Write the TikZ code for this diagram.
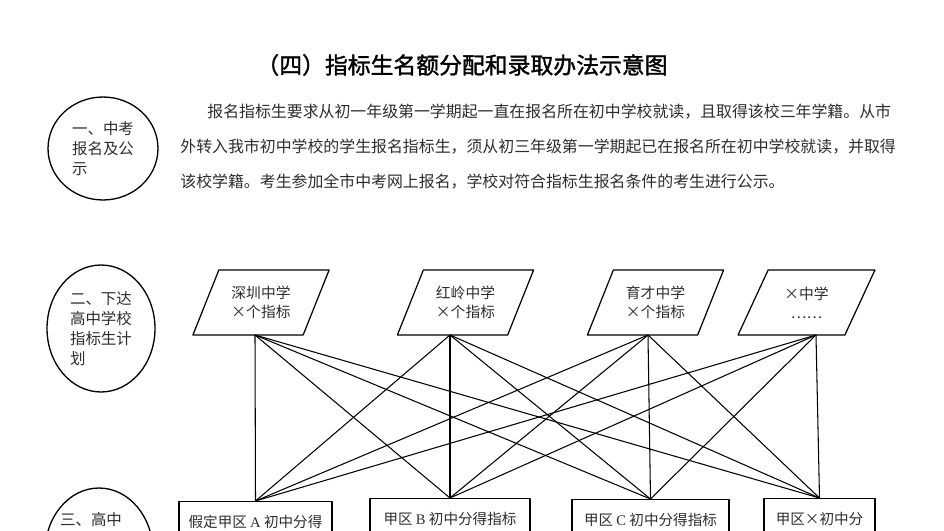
\documentclass[tikz,border=0pt]{standalone}
\usepackage{fontspec}
\setmainfont{Liberation Serif}
\newfontfamily\cjk{Noto Sans CJK SC}
\newfontfamily\cjkbold[FakeBold=1.5]{Noto Sans CJK SC}
\usepackage{tikz}
\usetikzlibrary{shapes.geometric}
\definecolor{ink}{RGB}{45,45,45}

\begin{document}
\begin{tikzpicture}[x=0.02cm, y=-0.02cm, line join=round,
    para/.style={anchor=west, inner sep=0pt, text=ink, font=\cjk\fontsize{9.05}{11}\selectfont},
    oval/.style={draw, ellipse, line width=0.75pt, inner sep=0pt, align=left, text=ink,
                 font=\cjk\fontsize{8.8}{11.4}\selectfont},
    plan/.style={draw, trapezium, trapezium left angle=62, trapezium right angle=118,
                 trapezium stretches=true, minimum width=2.74cm, minimum height=1.3cm,
                 line width=0.7pt, align=center, inner sep=1pt, text=ink,
                 font=\cjk\fontsize{8.4}{10.8}\selectfont},
    quota/.style={draw, anchor=north, minimum height=0.8cm, line width=0.8pt, inner sep=0pt,
                  text=ink, font=\cjk\fontsize{8.3}{10}\selectfont},
    link/.style={line width=0.6pt}]
    \useasboundingbox (0,0) rectangle (944,531);
    \clip (0,0) rectangle (944,531);

    % title
    \node[font=\cjkbold\fontsize{13}{15}\selectfont] (title) at (462,65) {（四）指标生名额分配和录取办法示意图};

    % step one: sign-up text
    \node[oval, minimum width=2.2cm, minimum height=2.06cm] (e1) at (103,148.5) {一、中考\\报名及公\\示};
    \node[para] (l1) at (207,112) {报名指标生要求从初一年级第一学期起一直在报名所在初中学校就读，且取得该校三年学籍。从市};
    \node[para] (l2) at (180,147) {外转入我市初中学校的学生报名指标生，须从初三年级第一学期起已在报名所在初中学校就读，并取得};
    \node[para] (l3) at (180,182) {该校学籍。考生参加全市中考网上报名，学校对符合指标生报名条件的考生进行公示。};

    % step two: high school quotas
    \node[oval, minimum width=2.16cm, minimum height=2.54cm] (e2) at (101,328.5) {二、下达\\高中学校\\指标生计\\划};
    \node[plan] (p1) at (261,302.5) {深圳中学\\×个指标};
    \node[plan] (p2) at (465.5,302.5) {红岭中学\\×个指标};
    \node[plan] (p3) at (655.5,302.5) {育才中学\\×个指标};
    \node[plan] (p4) at (806.5,302.5) {×中学\\……};
    \coordinate (s1) at (255,335);
    \coordinate (s2) at (450,335);
    \coordinate (s3) at (648,335);
    \coordinate (s4) at (816,335);

    % step three: junior school shares
    \node[oval, minimum width=2.16cm, minimum height=2.56cm] (e3) at (99,552) {};
    \node[oval, draw=none] (e3t) at (91,520) {三、高中};
    \node[quota, minimum width=3.06cm] (a) at (255.5,501) {假定甲区 {\rmfamily A} 初中分得};
    \node[quota, minimum width=3.2cm] (b) at (450,498) {甲区 {\rmfamily B} 初中分得指标};
    \node[quota, minimum width=3.14cm] (c) at (650.5,499) {甲区 {\rmfamily C} 初中分得指标};
    \node[quota, minimum width=2.22cm] (x) at (819.5,498) {甲区×初中分};

    % every quota goes to every district school
    \foreach \i in {1,...,4}
      \foreach \j in {a,b,c,x}
        \draw[link] (s\i) -- (\j.north);
\end{tikzpicture}
\end{document}
